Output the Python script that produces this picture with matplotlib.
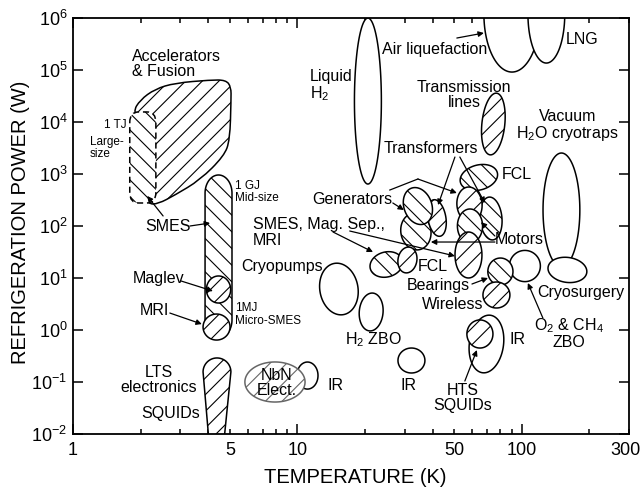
import numpy as np
import matplotlib.pyplot as plt
from matplotlib.path import Path
from matplotlib.patches import PathPatch
from matplotlib.ticker import FixedLocator, FuncFormatter, NullLocator

plt.rcParams['font.family'] = ['Liberation Sans', 'DejaVu Sans']
plt.rcParams['mathtext.fontset'] = 'custom'
plt.rcParams['mathtext.rm'] = 'Liberation Sans'
plt.rcParams['mathtext.it'] = 'Liberation Sans:italic'
plt.rcParams['mathtext.bf'] = 'Liberation Sans:bold'
plt.rcParams['mathtext.default'] = 'regular'
plt.rcParams['hatch.linewidth'] = 0.8

# --- elliptical application regions (draw order) ---
# centre temperature (K), centre power (W), half-width / half-height in decades, tilt, hatch
ell_name = ['Liquid H2', 'Air liquefaction', 'LNG', 'Transmission lines', 'Vacuum cryotraps',
            'Cryosurgery', 'FCL hi', 'Motors L', 'Transformers L', 'Generators L',
            'Generators R', 'Transformers R', 'Motors R', 'FCL R', 'Mag. Sep.', 'FCL lo',
            'O2 CH4 ZBO', 'Bearings', 'Wireless', 'IR hts', 'HTS SQUIDs', 'IR mid',
            'H2 ZBO', 'Cryopumps', 'IR low', 'NbN']
ell_T = [20.6, 90.3, 128.5, 74.6, 150, 159.5, 64.3, 33.7, 41.8, 34.4,
         72.8, 58.4, 58.7, 57.8, 24.9, 30.9, 103.1, 80.2, 77.0, 69.5, 65.0, 32.2,
         21.3, 15.3, 11.08, 7.94]
ell_P = [2.53e4, 1.19e6, 1.19e6, 9.15e3, 203, 14.3, 857, 78.4, 142.5, 242,
         139.4, 259, 100, 27.7, 18.2, 22.2, 17.0, 13.3, 4.71, 0.538, 0.838, 0.259,
         2.22, 6.14, 0.133, 0.1]
ell_wx = [0.060, 0.125, 0.082, 0.051, 0.082, 0.087, 0.085, 0.067, 0.040, 0.062,
          0.049, 0.056, 0.056, 0.060, 0.074, 0.042, 0.069, 0.056, 0.060, 0.076, 0.058, 0.060,
          0.053, 0.085, 0.047, 0.134]
ell_wy = [1.596, 1.115, 0.942, 0.596, 1.096, 0.240, 0.240, 0.356, 0.356, 0.365,
          0.413, 0.337, 0.327, 0.442, 0.240, 0.250, 0.300, 0.260, 0.250, 0.558, 0.270, 0.240,
          0.365, 0.500, 0.260, 0.385]
ell_ang = [0, 0, 0, -6, 0, -8, 15, 10, 10, 20,
           5, 5, 0, 0, 15, -10, 0, 0, 0, -8, 0, 0,
           -5, 10, 0, 0]
ell_hatch = [None, None, None, '//', None, None, '\\\\', '\\\\', '//', '\\\\',
             '\\\\', '//', '\\\\', '//', '\\\\', '//', None, '\\\\', '//', None, '//', None,
             None, None, None, '//']

# accelerators & fusion outline (T, P)
acc_T = [1.85, 1.99, 2.32, 2.85, 4.08, 4.80, 5.06, 5.06, 5.00, 4.71, 3.68, 2.85, 2.39, 2.16, 2.03, 2.03]
acc_P = [1.56e4, 2.65e4, 4.31e4, 5.62e4, 6.42e4, 6.42e4, 4.71e4, 2.65e4, 4.51e3, 2.22e3,
         767, 395, 265, 265, 492, 8.76e3]
# 1 TJ large-size SMES (dashed box)
tj_T = [1.79, 2.34]
tj_P = [277, 1.56e4]
# 1 GJ mid-size SMES capsule
gj_T, gj_Ptop, gj_Pbot, gj_wx, gj_cap = 4.45, 957, 0.70, 0.060, 0.35
# Maglev and MRI circles on the capsule
mag_T, mag_P, mag_wx, mag_wy = 4.45, 6.01, 0.054, 0.26
mri_T, mri_P, mri_wx, mri_wy = 4.36, 1.14, 0.060, 0.25
# LTS electronics / SQUIDs teardrop
lts_T, lts_P, lts_wx, lts_wy = 4.38, 0.156, 0.062, 0.269
lts_Tbot, lts_Pbot = [4.03, 4.71], 0.0077

# labels
lab_text = ['Accelerators\n& Fusion', '1 TJ', 'Large-\nsize', '1 GJ\nMid-size', '1MJ\nMicro-SMES',
            'SMES', 'Maglev', 'MRI', 'LTS\nelectronics', 'SQUIDs', 'NbN\nElect.', 'IR', 'IR',
            'H$_2$ ZBO', 'HTS\nSQUIDs', 'IR', 'O$_2$ & CH$_4$\nZBO', 'Cryosurgery', 'Bearings',
            'Wireless', 'FCL', 'Cryopumps', 'SMES, Mag. Sep.,\nMRI', 'Generators', 'Transformers',
            'Motors', 'FCL', 'Transmission\nlines', 'Vacuum\nH$_2$O cryotraps', 'Air liquefaction',
            'LNG', 'Liquid\nH$_2$']
lab_T = [1.83, 1.54, 1.19, 5.27, 5.27, 2.66, 2.40, 2.30, 2.42, 2.73, 8.11, 14.85, 31.4,
         21.7, 54.6, 96, 162, 183, 42.5, 49.0, 40.2, 8.57, 6.34, 17.6, 39.3,
         97, 95, 55.2, 160, 41, 185, 11.4]
lab_P = [1.30e5, 8.6e3, 3.2e3, 451, 1.99, 97.7, 10.0, 2.32, 0.109, 0.0253, 0.0957, 0.0838, 0.0838,
         0.642, 0.0492, 0.671, 0.875, 5.15, 7.02, 3.16, 17.0, 16.6, 75.0, 330, 3.09e3,
         53.8, 978, 3.3e4, 8.4e3, 2.43e5, 3.78e5, 4.92e4]
lab_left = {0, 2, 3, 4, 22, 31}
lab_small = {1, 2, 3, 4}

# arrows: start (T, P) -> tip (T, P)
arr_T0 = [2.52, 3.32, 3.03, 2.70, 51.3, 50.3, 52.9, 26.6, 34.4, 75.8, 75.8, 14.4, 17.1, 59.9, 124.0, 55.7]
arr_P0 = [156, 100, 8.76, 2.12, 4.12e5, 2.12e3, 2.12e3, 277, 801, 64.2, 49.2, 76.7, 80.1, 7.66, 1.70, 0.1045]
arr_T1 = [2.14, 4.08, 4.20, 3.75, 67.7, 42.3, 68.4, 29.8, 51.3, 65.7, 39.3, 21.7, 50.3, 70.6, 106.3, 63.0]
arr_P1 = [378, 114, 5.62, 1.30, 5.15e5, 253, 277, 203, 431, 119, 49.2, 31.6, 26.5, 10.0, 8.01, 0.412]
# plain leader segment (Generators)
lead_T = [25.8, 34.4]
lead_P = [492, 801]

W, H = 642, 490
fig = plt.figure(figsize=(W / 100, H / 100), dpi=100)
ax = fig.add_axes([73 / W, 1 - 434 / H, 556 / W, 416 / H])
ax.set_xscale('log')
ax.set_yscale('log')
ax.set_xlim(1, 300)
ax.set_ylim(1e-2, 1e6)

pos = ax.get_position()
kx = pos.width * W / np.log10(300)   # px per decade
ky = pos.height * H / 8.0


def ellipse_xy(T, P, wx, wy, ang=0):
    t = np.linspace(0, 2 * np.pi, 181)
    u = wx * kx * np.cos(t)
    v = wy * ky * np.sin(t)
    a = np.radians(ang)
    du = u * np.cos(a) - v * np.sin(a)
    dv = u * np.sin(a) + v * np.cos(a)
    return 10 ** (np.log10(T) + du / kx), 10 ** (np.log10(P) + dv / ky)


def shape(x, y, hatch=None, ec='k', ls='-', z=2):
    ax.fill(x, y, facecolor='white', edgecolor=ec, hatch=hatch, lw=1.1, ls=ls, zorder=z)


def smooth_path(Ts, Ps):
    L = np.column_stack([np.log10(Ts), np.log10(Ps)])
    mids = (L + np.roll(L, -1, axis=0)) / 2
    verts = [mids[-1]]
    codes = [Path.MOVETO]
    for i in range(len(L)):
        verts += [L[i], mids[i]]
        codes += [Path.CURVE3, Path.CURVE3]
    return Path(10 ** np.array(verts), codes)


def rounded_box(T, P, rx, ry):
    l, r = np.log10(T)
    b, t = np.log10(P)
    pts = [(l, t - ry), (l, t), (l + rx, t), (r - rx, t), (r, t), (r, t - ry),
           (r, b + ry), (r, b), (r - rx, b), (l + rx, b), (l, b), (l, b + ry), (l, t - ry)]
    codes = [Path.MOVETO, Path.CURVE3, Path.CURVE3, Path.LINETO, Path.CURVE3, Path.CURVE3,
             Path.LINETO, Path.CURVE3, Path.CURVE3, Path.LINETO, Path.CURVE3, Path.CURVE3, Path.LINETO]
    return Path(10 ** np.array(pts), codes)


# accelerators blob + dashed 1 TJ region
ax.add_patch(PathPatch(smooth_path(acc_T, acc_P), facecolor='white', edgecolor='k',
                       hatch='//', lw=1.1, zorder=2))
ax.add_patch(PathPatch(rounded_box(tj_T, tj_P, 0.04, 0.2), facecolor='white', edgecolor='k',
                       hatch='\\\\', lw=1.1, ls=(0, (4, 2.5)), zorder=2))

# 1 GJ capsule
lt = np.log10(gj_T)
t1 = np.linspace(0, np.pi, 60)
t2 = np.linspace(np.pi, 2 * np.pi, 60)
cx = np.concatenate([lt + gj_wx * np.cos(t1), lt + gj_wx * np.cos(t2)])
cy = np.concatenate([np.log10(gj_Ptop) - gj_cap + gj_cap * np.sin(t1),
                     np.log10(gj_Pbot) + gj_cap + gj_cap * np.sin(t2)])
shape(10 ** cx, 10 ** cy, '\\\\')
shape(*ellipse_xy(mag_T, mag_P, mag_wx, mag_wy), '//')
shape(*ellipse_xy(mri_T, mri_P, mri_wx, mri_wy), '//')

# LTS teardrop
dx = np.concatenate([np.log10(lts_T) + lts_wx * np.cos(t1), np.log10(lts_Tbot)])
dy = np.concatenate([np.log10(lts_P) + lts_wy * np.sin(t1), np.log10([lts_Pbot, lts_Pbot])])
shape(10 ** dx, 10 ** dy, '//')

for i in range(len(ell_name)):
    ec = '0.4' if ell_name[i] == 'NbN' else 'k'
    shape(*ellipse_xy(ell_T[i], ell_P[i], ell_wx[i], ell_wy[i], ell_ang[i]), ell_hatch[i], ec=ec)

for i, s in enumerate(lab_text):
    ax.text(lab_T[i], lab_P[i], s, ha='left' if i in lab_left else 'center', va='center',
            fontsize=8.5 if i in lab_small else 11.5, linespacing=1.05, zorder=5)

ax.plot(lead_T, lead_P, color='k', lw=0.9, zorder=4)
for i in range(len(arr_T0)):
    ax.annotate('', xy=(arr_T1[i], arr_P1[i]), xytext=(arr_T0[i], arr_P0[i]),
                arrowprops=dict(arrowstyle='-|>', color='k', lw=0.9, mutation_scale=8,
                                shrinkA=0, shrinkB=0), zorder=4)

ax.xaxis.set_major_locator(FixedLocator([1, 10, 100]))
ax.xaxis.set_minor_locator(FixedLocator([m * d for d in (1, 10, 100) for m in range(2, 10) if m * d <= 300]))
ax.xaxis.set_major_formatter(FuncFormatter(lambda v, p: f'{v:g}'))
ax.xaxis.set_minor_formatter(FuncFormatter(lambda v, p: f'{v:g}' if round(v) in (5, 50) else ''))
ax.yaxis.set_major_locator(FixedLocator([10.0 ** k for k in range(-2, 7)]))
ax.yaxis.set_minor_locator(NullLocator())
ax.tick_params(which='both', direction='in', top=True, right=True, width=1.1, labelsize=13)
ax.tick_params(which='major', length=7)
ax.tick_params(which='minor', length=3.5)
ax.tick_params(axis='x', which='both', pad=6)
ax.tick_params(axis='y', pad=4)
for sp in ax.spines.values():
    sp.set_linewidth(1.3)

# the "300" label at the right corner, kept inside the figure edge
ax.annotate('300', xy=(300, 0), xycoords=('data', 'axes fraction'), xytext=(8, -6),
            textcoords='offset points', ha='right', va='top', fontsize=13)

fig.text(355 / W, 1 - 477 / H, 'TEMPERATURE (K)', ha='center', va='center', fontsize=14.5)
fig.text(21 / W, 1 - 222 / H, 'REFRIGERATION POWER (W)', ha='center', va='center',
         rotation=90, fontsize=14.5)

fig.savefig('out.png', dpi=100)
